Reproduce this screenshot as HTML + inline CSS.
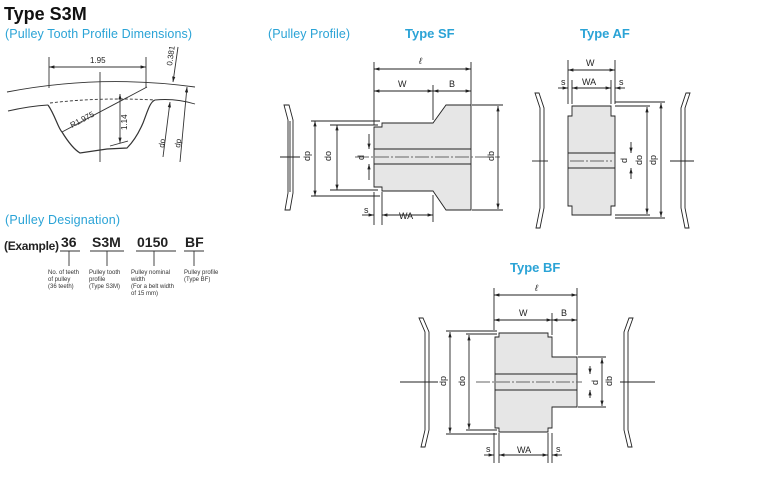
<!DOCTYPE html>
<html><head><meta charset="utf-8"><style>
html,body{margin:0;padding:0;background:#fff}
svg{display:block}
.t{font-family:"Liberation Sans",sans-serif}
.b{fill:#2aa3d6;font-family:"Liberation Sans",sans-serif}
</style></head><body>
<svg width="768" height="481" viewBox="0 0 768 481" xmlns="http://www.w3.org/2000/svg">
<defs>
<marker id="a" viewBox="0 0 10 10" refX="10" refY="5" markerWidth="6" markerHeight="6" orient="auto-start-reverse"><path d="M0,2 L10,5 L0,8z" fill="#222"/></marker>
</defs>
<text x="4" y="20" class="t" font-size="18" font-weight="bold" fill="#111">Type S3M</text>
<text x="5" y="38" class="b" font-size="12.5" textLength="187">(Pulley Tooth Profile Dimensions)</text>
<text x="268" y="38" class="b" font-size="12.5" textLength="82">(Pulley Profile)</text>
<text x="405" y="38" class="b" font-size="13" font-weight="bold">Type SF</text>
<text x="580" y="38" class="b" font-size="13" font-weight="bold">Type AF</text>
<text x="510" y="272" class="b" font-size="13" font-weight="bold">Type BF</text>

<!-- tooth profile -->
<g stroke="#333" fill="none" stroke-width="0.9">
<path d="M7,92 Q100,74 195,87"/>
<path d="M8,111 Q30,106 48,105"/>
<path d="M50,103 Q100,97 155,100" stroke-dasharray="3,2"/>
<path d="M155,100 Q175,98 195,104"/>
<path d="M48,105 C55,115 58,128 62,132 C70,145 75,150 80,153 L107,149 L127,148 C135,140 140,130 143,123 C148,110 150,102 155,100" stroke-width="1.2"/>
<line x1="49" y1="57" x2="49" y2="88"/><line x1="146" y1="57" x2="146" y2="88"/>
<line x1="49" y1="67" x2="146" y2="67" marker-start="url(#a)" marker-end="url(#a)"/>
<line x1="100" y1="72" x2="100" y2="162"/>
<line x1="62" y1="132" x2="147" y2="87"/>
<line x1="120" y1="94" x2="120" y2="143" marker-start="url(#a)" marker-end="url(#a)"/>
<line x1="110" y1="146" x2="128" y2="141"/>
<line x1="178" y1="47" x2="173" y2="82" marker-end="url(#a)"/>
<line x1="170" y1="102" x2="163" y2="157" marker-start="url(#a)"/>
<line x1="187" y1="87" x2="180" y2="162" marker-start="url(#a)"/>
</g>
<g class="t" font-size="8" fill="#222">
<text x="90" y="63">1.95</text>
<text transform="translate(172,66) rotate(-82)">0.381</text>
<text transform="translate(72,128) rotate(-28)">R1.975</text>
<text transform="translate(127,130) rotate(-90)">1.14</text>
<text transform="translate(164,148) rotate(-82)">do</text>
<text transform="translate(180,148) rotate(-82)">dp</text>
</g>

<!-- designation -->
<text x="5" y="224" class="b" font-size="12.5" textLength="115">(Pulley Designation)</text>
<g class="t" fill="#222">
<text x="4" y="250" font-size="12" font-weight="bold" textLength="55">(Example)</text>
<text x="61" y="247" font-size="14" font-weight="bold">36</text>
<text x="92" y="247" font-size="14" font-weight="bold">S3M</text>
<text x="137" y="247" font-size="14" font-weight="bold">0150</text>
<text x="185" y="247" font-size="14" font-weight="bold">BF</text>
</g>
<g stroke="#333" stroke-width="0.9">
<line x1="60" y1="251" x2="80" y2="251"/><line x1="69" y1="251" x2="69" y2="266"/>
<line x1="90" y1="251" x2="124" y2="251"/><line x1="107" y1="251" x2="107" y2="266"/>
<line x1="136" y1="251" x2="176" y2="251"/><line x1="154" y1="251" x2="154" y2="266"/>
<line x1="184" y1="251" x2="204" y2="251"/><line x1="194" y1="251" x2="194" y2="266"/>
</g>
<g class="t" font-size="6" fill="#333">
<text x="48" y="274">No. of teeth</text><text x="48" y="281">of pulley</text><text x="48" y="288">(36 teeth)</text>
<text x="89" y="274">Pulley tooth</text><text x="89" y="281">profile</text><text x="89" y="288">(Type S3M)</text>
<text x="131" y="274">Pulley nominal</text><text x="131" y="281">width</text><text x="131" y="288">(For a belt width</text><text x="131" y="295">of 15 mm)</text>
<text x="184" y="274">Pulley profile</text><text x="184" y="281">(Type BF)</text>
</g>

<!-- SF -->
<g stroke="#222" stroke-width="0.9" fill="none">
<path d="M284,105 L289,105 L293,120 L293,193 L290,210 L285,210 L288,193 L288,120z" fill="#fff"/>
<line x1="290" y1="121" x2="290" y2="192"/>
<line x1="280" y1="157" x2="300" y2="157"/>
<path d="M374,127 L382,127 L382,123 L433,123 L446,105 L471,105 L471,210 L446,210 L433,191 L382,191 L382,187 L374,187z" fill="#e6e6e6"/>
<line x1="374" y1="149" x2="471" y2="149"/><line x1="374" y1="164" x2="471" y2="164"/>
<line x1="355" y1="157" x2="500" y2="157" stroke-dasharray="14,2,2,2" stroke="#666"/>
<line x1="374" y1="62" x2="374" y2="125"/><line x1="471" y1="62" x2="471" y2="105"/><line x1="433" y1="85" x2="433" y2="120"/>
<line x1="374" y1="69" x2="471" y2="69" marker-start="url(#a)" marker-end="url(#a)"/>
<line x1="374" y1="91" x2="433" y2="91" marker-start="url(#a)" marker-end="url(#a)"/>
<line x1="433" y1="91" x2="471" y2="91" marker-start="url(#a)" marker-end="url(#a)"/>
<line x1="311" y1="121" x2="380" y2="121"/><line x1="311" y1="196" x2="380" y2="196"/>
<line x1="330" y1="125" x2="378" y2="125"/><line x1="330" y1="190" x2="378" y2="190"/>
<line x1="315" y1="121" x2="315" y2="196" marker-start="url(#a)" marker-end="url(#a)"/>
<line x1="337" y1="125" x2="337" y2="190" marker-start="url(#a)" marker-end="url(#a)"/>
<line x1="369" y1="134" x2="369" y2="149" marker-end="url(#a)"/><line x1="369" y1="180" x2="369" y2="164" marker-end="url(#a)"/>
<line x1="472" y1="105" x2="503" y2="105"/><line x1="472" y1="210" x2="503" y2="210"/>
<line x1="498" y1="106" x2="498" y2="209" marker-start="url(#a)" marker-end="url(#a)"/>
<line x1="374" y1="192" x2="374" y2="225"/><line x1="382" y1="192" x2="382" y2="225"/><line x1="433" y1="195" x2="433" y2="222"/>
<line x1="362" y1="215" x2="374" y2="215" marker-end="url(#a)"/>
<line x1="382" y1="215" x2="433" y2="215" marker-start="url(#a)" marker-end="url(#a)"/>
</g>
<g class="t" font-size="9" fill="#222">
<text x="419" y="64" font-style="italic">ℓ</text>
<text x="398" y="87">W</text><text x="449" y="87">B</text>
<text x="399" y="219">WA</text><text x="364" y="213">s</text>
<text transform="translate(310,161) rotate(-90)">dp</text>
<text transform="translate(331,161) rotate(-90)">do</text>
<text transform="translate(364,160) rotate(-90)">d</text>
<text transform="translate(494,161) rotate(-90)">db</text>
</g>

<!-- AF -->
<g stroke="#222" stroke-width="0.9" fill="none">
<path d="M535,93 L539,93 L544,108 L544,208 L540,228 L536,228 L540,208 L540,108z" fill="#fff"/>
<path d="M690,93 L686,93 L681,108 L681,208 L685,228 L689,228 L685,208 L685,108z" fill="#fff"/>
<path d="M568,116 L572,116 L572,106 L611,106 L611,116 L615,116 L615,206 L611,206 L611,215 L572,215 L572,206 L568,206z" fill="#e6e6e6"/>
<line x1="568" y1="153" x2="615" y2="153"/><line x1="568" y1="168" x2="615" y2="168"/>
<line x1="532" y1="161" x2="548" y2="161"/><line x1="570" y1="161" x2="612" y2="161" stroke-dasharray="14,2,2,2" stroke="#666"/><line x1="670" y1="161" x2="694" y2="161"/>
<line x1="568" y1="60" x2="568" y2="104"/><line x1="615" y1="60" x2="615" y2="104"/>
<line x1="572" y1="80" x2="572" y2="104"/><line x1="611" y1="80" x2="611" y2="104"/>
<line x1="568" y1="70" x2="615" y2="70" marker-start="url(#a)" marker-end="url(#a)"/>
<line x1="558" y1="88" x2="568" y2="88" marker-end="url(#a)"/>
<line x1="572" y1="88" x2="611" y2="88" marker-start="url(#a)" marker-end="url(#a)"/>
<line x1="625" y1="88" x2="615" y2="88" marker-end="url(#a)"/>
<line x1="615" y1="102" x2="665" y2="102"/><line x1="615" y1="106" x2="650" y2="106"/>
<line x1="615" y1="215" x2="650" y2="215"/><line x1="615" y1="218" x2="665" y2="218"/>
<line x1="661" y1="103" x2="661" y2="217" marker-start="url(#a)" marker-end="url(#a)"/>
<line x1="647" y1="107" x2="647" y2="214" marker-start="url(#a)" marker-end="url(#a)"/>
<line x1="631" y1="142" x2="631" y2="153" marker-end="url(#a)"/><line x1="631" y1="179" x2="631" y2="168" marker-end="url(#a)"/>
</g>
<g class="t" font-size="9" fill="#222">
<text x="586" y="66">W</text><text x="582" y="85">WA</text>
<text x="561" y="85">s</text><text x="619" y="85">s</text>
<text transform="translate(642,165) rotate(-90)">do</text>
<text transform="translate(656,165) rotate(-90)">dp</text>
<text transform="translate(627,163) rotate(-90)">d</text>
</g>

<!-- BF -->
<g stroke="#222" stroke-width="0.9" fill="none">
<path d="M419,318 L423,318 L429,332 L429,430 L425,447 L421,447 L425,430 L425,332z" fill="#fff"/>
<path d="M633,318 L629,318 L624,332 L624,430 L628,447 L632,447 L628,430 L628,332z" fill="#fff"/>
<path d="M495,337 L499,337 L499,333 L548,333 L548,337 L552,337 L552,357 L577,357 L577,407 L552,407 L552,428 L548,428 L548,432 L499,432 L499,428 L495,428z" fill="#e6e6e6"/>
<line x1="495" y1="374" x2="577" y2="374"/><line x1="495" y1="390" x2="577" y2="390"/>
<line x1="400" y1="382" x2="438" y2="382"/><line x1="476" y1="382" x2="582" y2="382" stroke-dasharray="14,2,2,2" stroke="#666"/><line x1="620" y1="382" x2="655" y2="382"/>
<line x1="494" y1="288" x2="494" y2="330"/><line x1="577" y1="288" x2="577" y2="355"/><line x1="552" y1="313" x2="552" y2="335"/>
<line x1="494" y1="295" x2="577" y2="295" marker-start="url(#a)" marker-end="url(#a)"/>
<line x1="494" y1="320" x2="552" y2="320" marker-start="url(#a)" marker-end="url(#a)"/>
<line x1="552" y1="320" x2="577" y2="320" marker-start="url(#a)" marker-end="url(#a)"/>
<line x1="446" y1="331" x2="497" y2="331"/><line x1="466" y1="334" x2="497" y2="334"/>
<line x1="466" y1="430" x2="497" y2="430"/><line x1="446" y1="434" x2="497" y2="434"/>
<line x1="450" y1="332" x2="450" y2="433" marker-start="url(#a)" marker-end="url(#a)"/>
<line x1="469" y1="335" x2="469" y2="429" marker-start="url(#a)" marker-end="url(#a)"/>
<line x1="578" y1="357" x2="606" y2="357"/><line x1="578" y1="407" x2="606" y2="407"/>
<line x1="602" y1="358" x2="602" y2="406" marker-start="url(#a)" marker-end="url(#a)"/>
<line x1="590" y1="366" x2="590" y2="374" marker-end="url(#a)"/><line x1="590" y1="398" x2="590" y2="390" marker-end="url(#a)"/>
<line x1="494" y1="433" x2="494" y2="463"/><line x1="499" y1="433" x2="499" y2="463"/>
<line x1="548" y1="433" x2="548" y2="463"/><line x1="552" y1="433" x2="552" y2="463"/>
<line x1="484" y1="455" x2="494" y2="455" marker-end="url(#a)"/>
<line x1="499" y1="455" x2="548" y2="455" marker-start="url(#a)" marker-end="url(#a)"/>
<line x1="562" y1="455" x2="552" y2="455" marker-end="url(#a)"/>
</g>
<g class="t" font-size="9" fill="#222">
<text x="535" y="291" font-style="italic">ℓ</text>
<text x="519" y="316">W</text><text x="561" y="316">B</text>
<text x="517" y="453">WA</text><text x="486" y="452">s</text><text x="556" y="452">s</text>
<text transform="translate(446,386) rotate(-90)">dp</text>
<text transform="translate(465,386) rotate(-90)">do</text>
<text transform="translate(598,385) rotate(-90)">d</text>
<text transform="translate(612,386) rotate(-90)">db</text>
</g>
</svg>
</body></html>
